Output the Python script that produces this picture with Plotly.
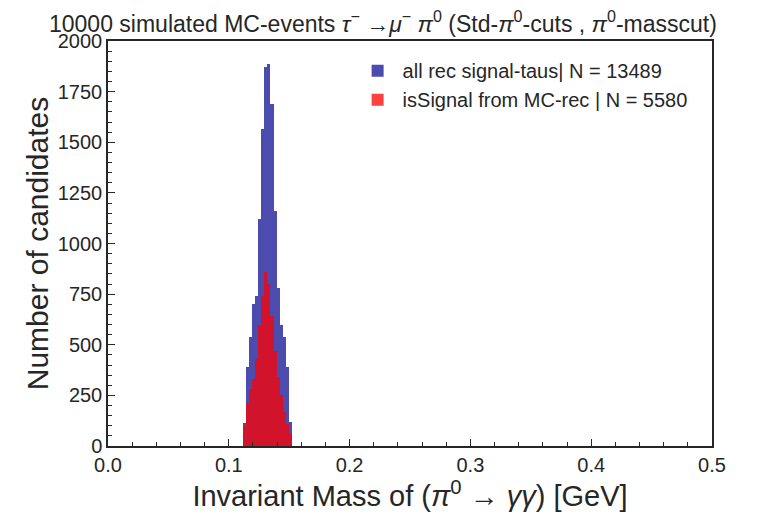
import plotly.graph_objects as go

# bin left edges (GeV), bin width 0.0025
bin_edges = [0.112 + 0.0025 * i for i in range(16)]
bin_width = 0.0025
all_rec = [112, 390, 538, 700, 740, 1120, 1565, 1870, 1885, 1690, 1160, 780, 600, 540, 390, 120]
is_signal = [100, 210, 280, 330, 430, 600, 740, 858, 800, 640, 470, 340, 250, 170, 110, 60]

x_ticks = [0.0, 0.1, 0.2, 0.3, 0.4, 0.5]
y_ticks = [0, 250, 500, 750, 1000, 1250, 1500, 1750, 2000]

FONT = "Liberation Sans, Arial, sans-serif"
INK = "#262626"

fig = go.Figure()
fig.add_trace(go.Bar(
    x=bin_edges, y=all_rec, width=[bin_width] * len(bin_edges), offset=0,
    marker=dict(color="rgba(0,0,139,0.7)", line=dict(width=0)),
    name="all rec signal-taus| N = 13489",
))
fig.add_trace(go.Bar(
    x=bin_edges, y=is_signal, width=[bin_width] * len(bin_edges), offset=0,
    marker=dict(color="rgba(255,0,0,0.75)", line=dict(width=0)),
    name="isSignal from MC-rec | N = 5580",
))

fig.update_layout(
    width=780, height=516,
    margin=dict(l=100, r=76, t=33, b=78, autoexpand=False),
    paper_bgcolor="white", plot_bgcolor="white",
    barmode="overlay", bargap=0,
    font=dict(family=FONT, color=INK),
    showlegend=True,
    legend=dict(x=0.405, y=0.975, xanchor="left", yanchor="top",
                font=dict(size=20, color=INK), bgcolor="rgba(0,0,0,0)",
                tracegroupgap=0, itemwidth=40),
    annotations=[dict(
        text="10000 simulated MC-events <i>τ</i><sup>−</sup> →<i>μ</i><sup>−</sup> <i>π</i><sup>0</sup> (Std-<i>π</i><sup>0</sup>-cuts , <i>π</i><sup>0</sup>-masscut)",
        xref="paper", yref="paper", x=0.455, y=1.0, yshift=2,
        xanchor="center", yanchor="bottom", showarrow=False,
        font=dict(size=23, family=FONT, color=INK),
    )],
)

fig.update_xaxes(
    range=[0, 0.5], tickvals=x_ticks, ticktext=[f"{v:.1f}" for v in x_ticks],
    ticks="inside", ticklen=7, tickwidth=1, tickcolor=INK,
    minor=dict(dtick=0.02, ticks="inside", ticklen=4, tickcolor=INK, showgrid=False),
    showline=True, linecolor=INK, linewidth=1.5, mirror=True,
    showgrid=False, zeroline=False, automargin=False,
    tickfont=dict(size=20, color=INK),
    title=dict(text="Invariant Mass of (<i>π</i><sup>0</sup> → <i>γγ</i>) [GeV]",
               font=dict(size=29, color=INK), standoff=7),
)
fig.update_yaxes(
    range=[0, 2000], tickvals=y_ticks, ticktext=[str(v) for v in y_ticks],
    ticks="inside", ticklen=7, tickwidth=1, tickcolor=INK,
    minor=dict(dtick=50, ticks="inside", ticklen=4, tickcolor=INK, showgrid=False),
    showline=True, linecolor=INK, linewidth=1.5, mirror=True,
    showgrid=False, zeroline=False, automargin=False,
    tickfont=dict(size=20, color=INK),
    ticklabelstandoff=0,
    title=dict(text="Number of candidates", font=dict(size=30, color=INK), standoff=0),
)

fig.write_html("out.html")
